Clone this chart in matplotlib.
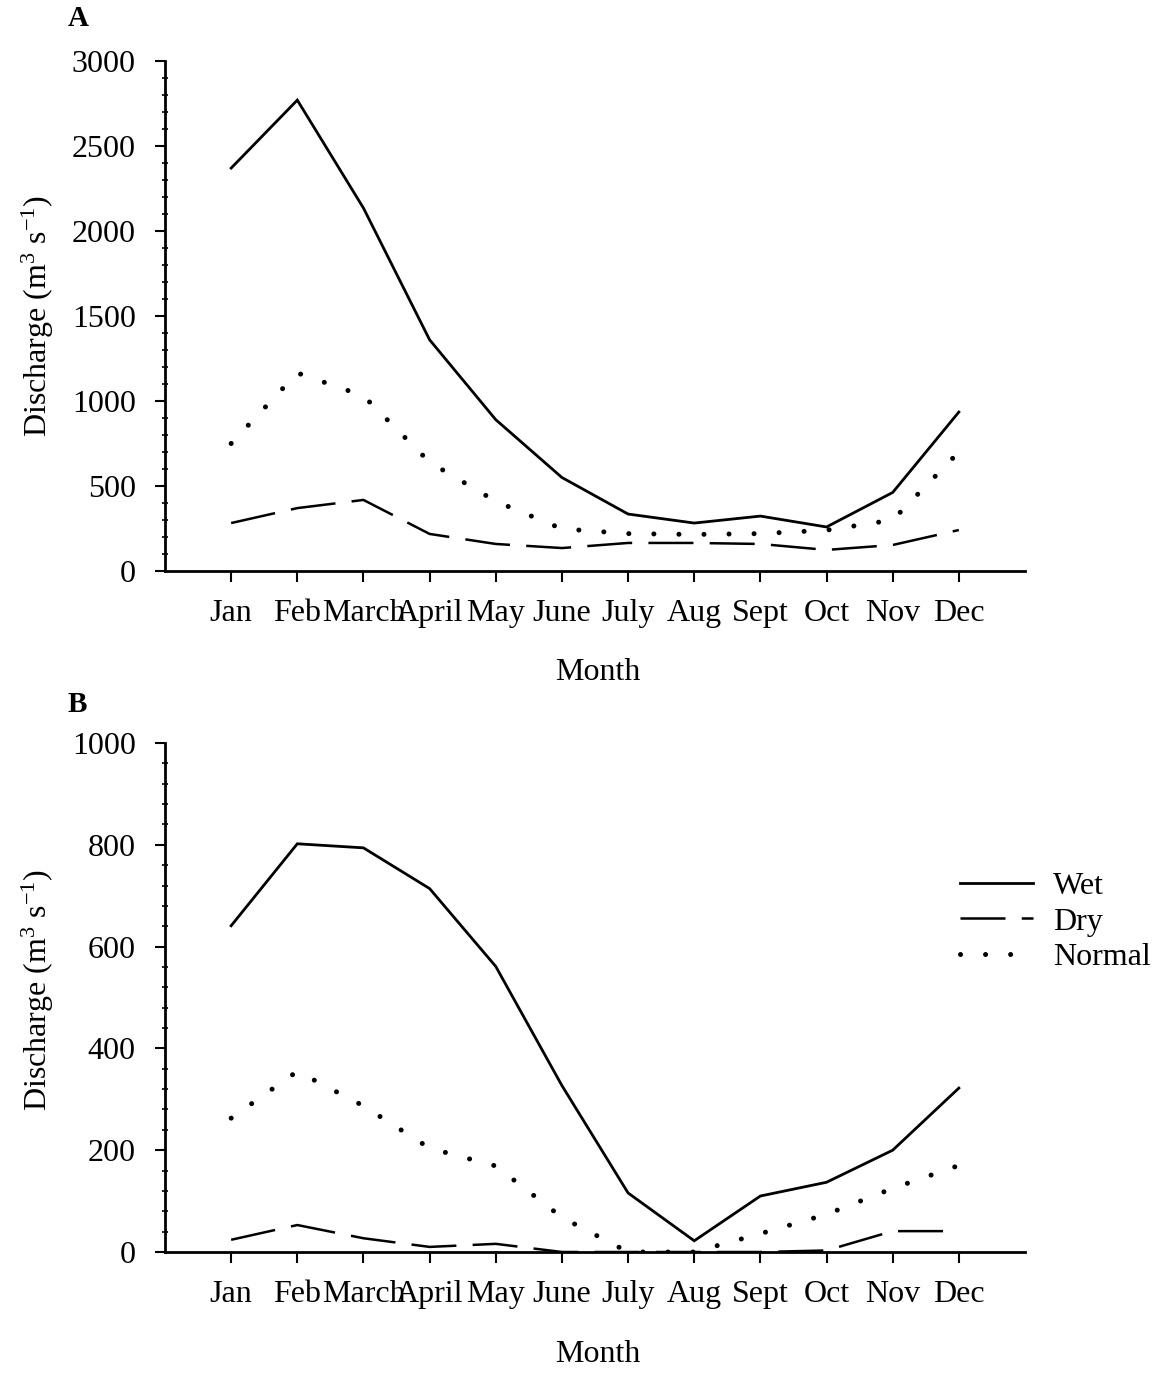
import matplotlib
matplotlib.use("Agg")
import matplotlib.pyplot as plt
from matplotlib.ticker import MultipleLocator

plt.rcParams['font.family'] = ['Liberation Serif', 'DejaVu Serif']
plt.rcParams['mathtext.fontset'] = 'custom'
plt.rcParams['mathtext.rm'] = 'Liberation Serif'
plt.rcParams['mathtext.it'] = 'Liberation Serif:italic'

months = ["Jan", "Feb", "March", "April", "May", "June", "July", "Aug",
          "Sept", "Oct", "Nov", "Dec"]
month_pos = list(range(1, 13))

wet_a = [2370, 2770, 2135, 1360, 890, 550, 335, 282, 323, 259, 462, 935]
dry_a = [282, 370, 418, 218, 159, 135, 165, 165, 159, 124, 153, 241]
normal_a = [750, 1165, 1030, 640, 410, 248, 220, 215, 220, 240, 300, 700]

wet_b = [641, 802, 794, 714, 561, 327, 116, 22, 110, 137, 200, 322]
dry_b = [24, 53, 27, 10, 16, 0, 0, 0, 0, 3, 41, 41]
normal_b = [263, 355, 287, 204, 169, 68, 0, 0, 36, 74, 125, 170]

W, H = 1164, 1374
fig = plt.figure(figsize=(W / 100, H / 100), dpi=100)

FS = 23


def make_axes(rect, ylim, major, minor, wet, dry, normal):
    ax = fig.add_axes(rect)
    l1, = ax.plot(month_pos, wet, color='black', lw=2.0, solid_joinstyle='miter')
    l2, = ax.plot(month_pos, dry, color='black', lw=1.8, linestyle=(0, (18, 6.5)))
    l3, = ax.plot(month_pos, normal, color='black', lw=3.6, linestyle=(0, (0.01, 5)))
    l3.set_dash_capstyle('round')
    ax.set_xlim(0, 13)
    ax.set_ylim(*ylim)
    ax.set_xticks(month_pos)
    ax.set_xticklabels(months, fontsize=FS)
    ax.yaxis.set_major_locator(MultipleLocator(major))
    ax.yaxis.set_minor_locator(MultipleLocator(minor))
    ax.tick_params(axis='y', labelsize=FS, direction='out', length=7, width=1.5, pad=14)
    ax.tick_params(axis='y', which='minor', direction='inout', length=4, width=1.2)
    ax.tick_params(axis='x', direction='out', length=8, width=1.5, pad=12)
    for s in ['top', 'right']:
        ax.spines[s].set_visible(False)
    for s in ['left', 'bottom']:
        ax.spines[s].set_linewidth(2)
    return ax, (l1, l2, l3)


# Panel A
ax_a, _ = make_axes([165 / W, 1 - 571 / H, 860 / W, 510 / H], (0, 3000), 500, 100,
                    wet_a, dry_a, normal_a)
# Panel B
ax_b, handles = make_axes([165 / W, 1 - 1252 / H, 860 / W, 509 / H], (0, 1000), 200, 40,
                          wet_b, dry_b, normal_b)

ylabel = "Discharge (m$^3$ s$^{-1}$)"
fig.text(38 / W, 1 - 316 / H, ylabel, rotation=90, ha='center', va='center', fontsize=FS)
fig.text(38 / W, 1 - 990 / H, ylabel, rotation=90, ha='center', va='center', fontsize=FS)
fig.text(598 / W, 1 - 673 / H, "Month", ha='center', va='center', fontsize=FS)
fig.text(598 / W, 1 - 1355 / H, "Month", ha='center', va='center', fontsize=FS)
fig.text(68 / W, 1 - 18 / H, "A", ha='left', va='center', fontsize=21, fontweight='bold')
fig.text(68 / W, 1 - 705 / H, "B", ha='left', va='center', fontsize=21, fontweight='bold')

leg = fig.legend(handles, ["Wet", "Dry", "Normal"], loc='center left',
                 bbox_to_anchor=(960 / W, 1 - 922 / H), frameon=False, fontsize=FS,
                 handlelength=2.3, handletextpad=0.6, labelspacing=0.2,
                 borderpad=0, borderaxespad=0)

fig.savefig("out.png", dpi=100)
